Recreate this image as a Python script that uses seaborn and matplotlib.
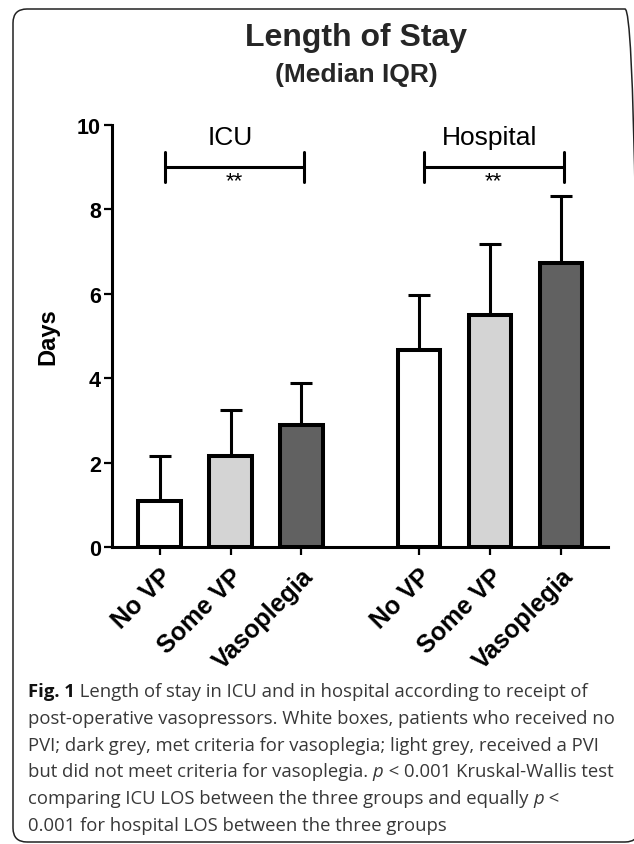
import matplotlib
matplotlib.use("Agg")
import matplotlib.pyplot as plt
import matplotlib.transforms as mtransforms
from matplotlib.patches import FancyBboxPatch
import seaborn as sns
import pandas as pd
import numpy as np

# ---------------- data ----------------
settings = ["ICU", "ICU", "ICU", "Hospital", "Hospital", "Hospital"]
groups = ["No VP", "Some VP", "Vasoplegia", "No VP", "Some VP", "Vasoplegia"]
medians = [1.1, 2.15, 2.9, 4.68, 5.5, 6.74]
upper_iqr = [2.15, 3.25, 3.88, 5.97, 7.18, 8.32]
tick_labels = ["No VP", "Some VP", "Vasoplegia", "No VP", "Some VP", "Vasoplegia"]
setting_names = ["ICU", "Hospital"]
sig_labels = ["**", "**"]
y_ticks = [0, 2, 4, 6, 8, 10]
title = "Length of Stay"
subtitle = "(Median IQR)"
y_label = "Days"
caption_lines = [
    [("Fig. 1", "bold"), (" Length of stay in ICU and in hospital according to receipt of", "normal")],
    [("post-operative vasopressors. White boxes, patients who received no", "normal")],
    [("PVI; dark grey, met criteria for vasoplegia; light grey, received a PVI", "normal")],
    [("but did not meet criteria for vasoplegia. ", "normal"), ("p", "italic"),
     (" < 0.001 Kruskal-Wallis test", "normal")],
    [("comparing ICU LOS between the three groups and equally ", "normal"), ("p", "italic"), (" <", "normal")],
    [("0.001 for hospital LOS between the three groups", "normal")],
]

# ---------------- style ----------------
sns.set_theme(style="ticks")
plt.rcParams["font.family"] = ["Liberation Sans", "DejaVu Sans"]

W, H = 634, 845
fig = plt.figure(figsize=(W / 100, H / 100), dpi=100)
fig.patch.set_facecolor("white")


def fx(px):
    return px / W


def fy(py):
    return 1 - py / H


ax = fig.add_axes([fx(112), fy(548), fx(608) - fx(112), fy(126) - fy(548)])
ax.set_facecolor("white")

# positions: groups within a setting are 1 apart, settings separated by a gap
group_gap = 3.655
setting_idx = [setting_names.index(s) for s in settings]
within_idx = [0, 1, 2, 0, 1, 2]
pos = np.array([w + k * group_gap for w, k in zip(within_idx, setting_idx)])

df = pd.DataFrame({"pos": pos, "median": medians, "group": groups})
palette = {"No VP": "#ffffff", "Some VP": "#d4d4d4", "Vasoplegia": "#616161"}

med = np.array(medians)
upp = np.array(upper_iqr)
ax.errorbar(pos, med, yerr=[np.zeros_like(med), upp - med], fmt="none",
            ecolor="black", elinewidth=2.2, capsize=8.0, capthick=2.2, zorder=1)

sns.barplot(data=df, x="pos", y="median", hue="group", palette=palette,
            dodge=False, native_scale=True, width=0.6, edgecolor="black",
            linewidth=2.9, legend=False, errorbar=None, ax=ax, zorder=2)

ax.set_xlim(-0.67, 6.32)
ax.set_ylim(0, 10)
ax.set_yticks(y_ticks)
ax.set_yticklabels([str(t) for t in y_ticks], fontsize=15.5, fontweight="bold")
ax.set_xticks(pos)
ax.set_xticklabels(tick_labels, rotation=45, ha="right", rotation_mode="anchor",
                   fontsize=18, fontweight="bold")
ax.tick_params(axis="both", length=6, width=1.6, color="black", labelcolor="black")
ax.tick_params(axis="y", pad=2)
ax.tick_params(axis="x", pad=6)
sns.despine(ax=ax)
for s in ["left", "bottom"]:
    ax.spines[s].set_linewidth(2.2)
    ax.spines[s].set_color("black")
ax.set_xlabel("")
ax.set_ylabel(y_label, fontsize=17, fontweight="bold", color="black")
ax.yaxis.label.set_va("center")
ax.yaxis.set_label_coords((48 - 112) / 496, 0.5)

# setting labels, significance brackets
for k, name in enumerate(setting_names):
    p = pos[[i for i, s in enumerate(setting_idx) if s == k]]
    x0, x1 = p.min() + 0.07, p.max() + 0.04
    xc = (p.min() + p.max()) / 2
    ax.text(xc, 9.72, name, ha="center", va="center", fontsize=19, color="black")
    ax.plot([x0, x1], [9.0, 9.0], color="black", lw=2.2, clip_on=False)
    ax.plot([x0, x0], [8.65, 9.35], color="black", lw=2.2, clip_on=False)
    ax.plot([x1, x1], [8.65, 9.35], color="black", lw=2.2, clip_on=False)
    ax.text((x0 + x1) / 2, 8.93, sig_labels[k], ha="center", va="top", fontsize=16, color="black")

# titles
fig.text(fx(356), fy(38), title, ha="center", va="center", fontsize=23, fontweight="bold")
fig.text(fx(356), fy(75), subtitle, ha="center", va="center", fontsize=19, fontweight="bold")

# frame
frame = FancyBboxPatch((13, H - 843), 626, 833, boxstyle="round,pad=0,rounding_size=14",
                       transform=mtransforms.IdentityTransform(), fill=False,
                       edgecolor="#222222", linewidth=1.1)
fig.add_artist(frame)

# caption
renderer = fig.canvas.get_renderer()
cap_font = ["Open Sans", "DejaVu Sans"]


def seg_kwargs(style, size):
    kw = dict(fontsize=size, family=cap_font, color="#383838")
    if style == "bold":
        kw.update(fontweight="bold", color="#111111")
    elif style == "italic":
        kw.update(fontstyle="italic")
    return kw


# fit caption size to the measured width of the 4th line (~585 px)
probe = fig.text(0, 0, "".join(t for t, _ in caption_lines[3]), **seg_kwargs("normal", 10))
w10 = probe.get_window_extent(renderer).width
probe.remove()
cap_size = 10 * 585 / w10

x_start = 28
baseline0 = 697
line_gap = 26.8
for i, line in enumerate(caption_lines):
    x = x_start
    yb = baseline0 + i * line_gap
    for txt, style in line:
        t = fig.text(fx(x), fy(yb), txt, ha="left", va="baseline", **seg_kwargs(style, cap_size))
        x += t.get_window_extent(renderer).width

fig.savefig("out.png", dpi=100, facecolor="white")
